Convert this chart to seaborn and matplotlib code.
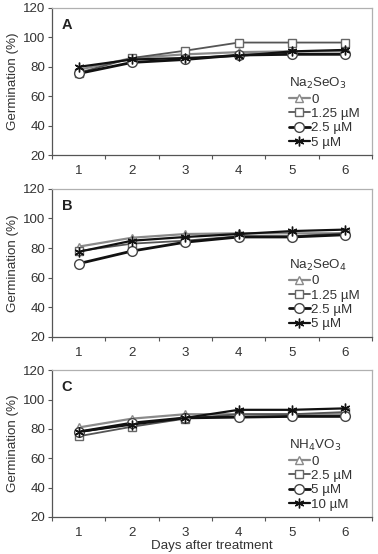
import matplotlib
matplotlib.use('Agg')
import matplotlib.pyplot as plt
import seaborn as sns
import numpy as np

sns.set_theme(style='white')
plt.rcParams['font.family'] = ['Liberation Sans', 'DejaVu Sans']

days = [1, 2, 3, 4, 5, 6]

# panel A: Na2SeO3
a_labels = ['0', '1.25 µM', '2.5 µM', '5 µM']
a_0 = [78, 86, 88.5, 90, 90.5, 90.5]
a_125 = [76, 86, 91, 96.5, 96.5, 96.5]
a_25 = [75.5, 83, 85, 88, 88.5, 88.5]
a_5 = [80, 85, 86, 87.5, 90.5, 91.5]

# panel B: Na2SeO4
b_labels = ['0', '1.25 µM', '2.5 µM', '5 µM']
b_0 = [81, 87, 89.5, 90, 90, 90]
b_125 = [78, 83, 85, 88, 88, 90]
b_25 = [69.5, 78, 84, 87.5, 87.5, 89]
b_5 = [77.5, 85, 87.5, 89.5, 91.5, 92.5]

# panel C: NH4VO3
c_labels = ['0', '2.5 µM', '5 µM', '10 µM']
c_0 = [81, 87, 90, 90, 90, 90]
c_25 = [75, 81.5, 87, 90, 90, 91.5]
c_5 = [78, 84, 87.5, 88, 88.5, 88.5]
c_10 = [78, 83, 87.5, 93, 93, 94]

panels = [
    ('A', r'Na$_2$SeO$_3$', a_labels, [a_0, a_125, a_25, a_5]),
    ('B', r'Na$_2$SeO$_4$', b_labels, [b_0, b_125, b_25, b_5]),
    ('C', r'NH$_4$VO$_3$', c_labels, [c_0, c_25, c_5, c_10]),
]

# series styles: gray triangle, dark gray square, black circle, black asterisk
styles = [
    dict(color='#8a8a8a', marker='^', lw=1.6, ms=6, mfc='white', mec='#8a8a8a'),
    dict(color='#555555', marker='s', lw=1.3, ms=6, mfc='white', mec='#666666'),
    dict(color='#111111', marker='o', lw=2.0, ms=7, mfc='white', mec='#444444'),
    dict(color='#111111', marker=(6, 2, 0), lw=1.6, ms=7, mfc='none', mec='#111111'),
]

fig = plt.figure(figsize=(3.78, 5.54), dpi=100)
boxes = [(0.138, 0.720, 0.846, 0.2656),
         (0.138, 0.392, 0.846, 0.267),
         (0.138, 0.0668, 0.846, 0.265)]

txt = '#333333'
fs = 9.6
for (letter, title, labels, series), box in zip(panels, boxes):
    ax = fig.add_axes(box)
    for lab, vals, st in zip(labels, series, styles):
        sns.lineplot(x=days, y=vals, ax=ax, label=lab, color=st['color'],
                     marker=st['marker'], linewidth=st['lw'], markersize=st['ms'],
                     markerfacecolor=st['mfc'], markeredgecolor=st['mec'],
                     markeredgewidth=1.0)
    ax.set_xlim(0.5, 6.5)
    ax.set_ylim(20, 120)
    ax.set_yticks([20, 40, 60, 80, 100, 120])
    ax.set_xticks(days)
    ax.set_xticks(np.arange(0.5, 7, 1), minor=True)
    ax.tick_params(axis='x', which='major', length=0, pad=7, labelsize=fs, labelcolor=txt)
    ax.tick_params(axis='x', which='minor', length=3, width=0.8, color='#555555', direction='out', bottom=True)
    ax.tick_params(axis='y', length=3, width=0.8, color='#555555', direction='out', left=True,
                   pad=2, labelsize=fs, labelcolor=txt)
    for s in ['left', 'bottom']:
        ax.spines[s].set_color('#555555')
        ax.spines[s].set_linewidth(0.9)
    for s in ['top', 'right']:
        ax.spines[s].set_color('#b0b0b0')
        ax.spines[s].set_linewidth(0.9)
    ax.set_ylabel('Germination (%)', fontsize=fs, color=txt, labelpad=3)
    ax.set_xlabel('')
    ax.text(0.03, 0.93, letter, transform=ax.transAxes, fontsize=10.5, fontweight='bold',
            color='#222222', va='top', ha='left')
    leg = ax.legend(title=title, loc='lower left', bbox_to_anchor=(0.71, -0.02),
                    frameon=False, fontsize=fs, title_fontsize=fs, handlelength=1.6,
                    handletextpad=0.1, labelspacing=0.15, borderpad=0.2,
                    alignment='left')
    for t in leg.get_texts():
        t.set_color(txt)
    leg.get_title().set_color(txt)
    if letter == 'C':
        ax.set_xlabel('Days after treatment', fontsize=fs, color=txt, labelpad=1)

fig.savefig('out.png', dpi=100)
